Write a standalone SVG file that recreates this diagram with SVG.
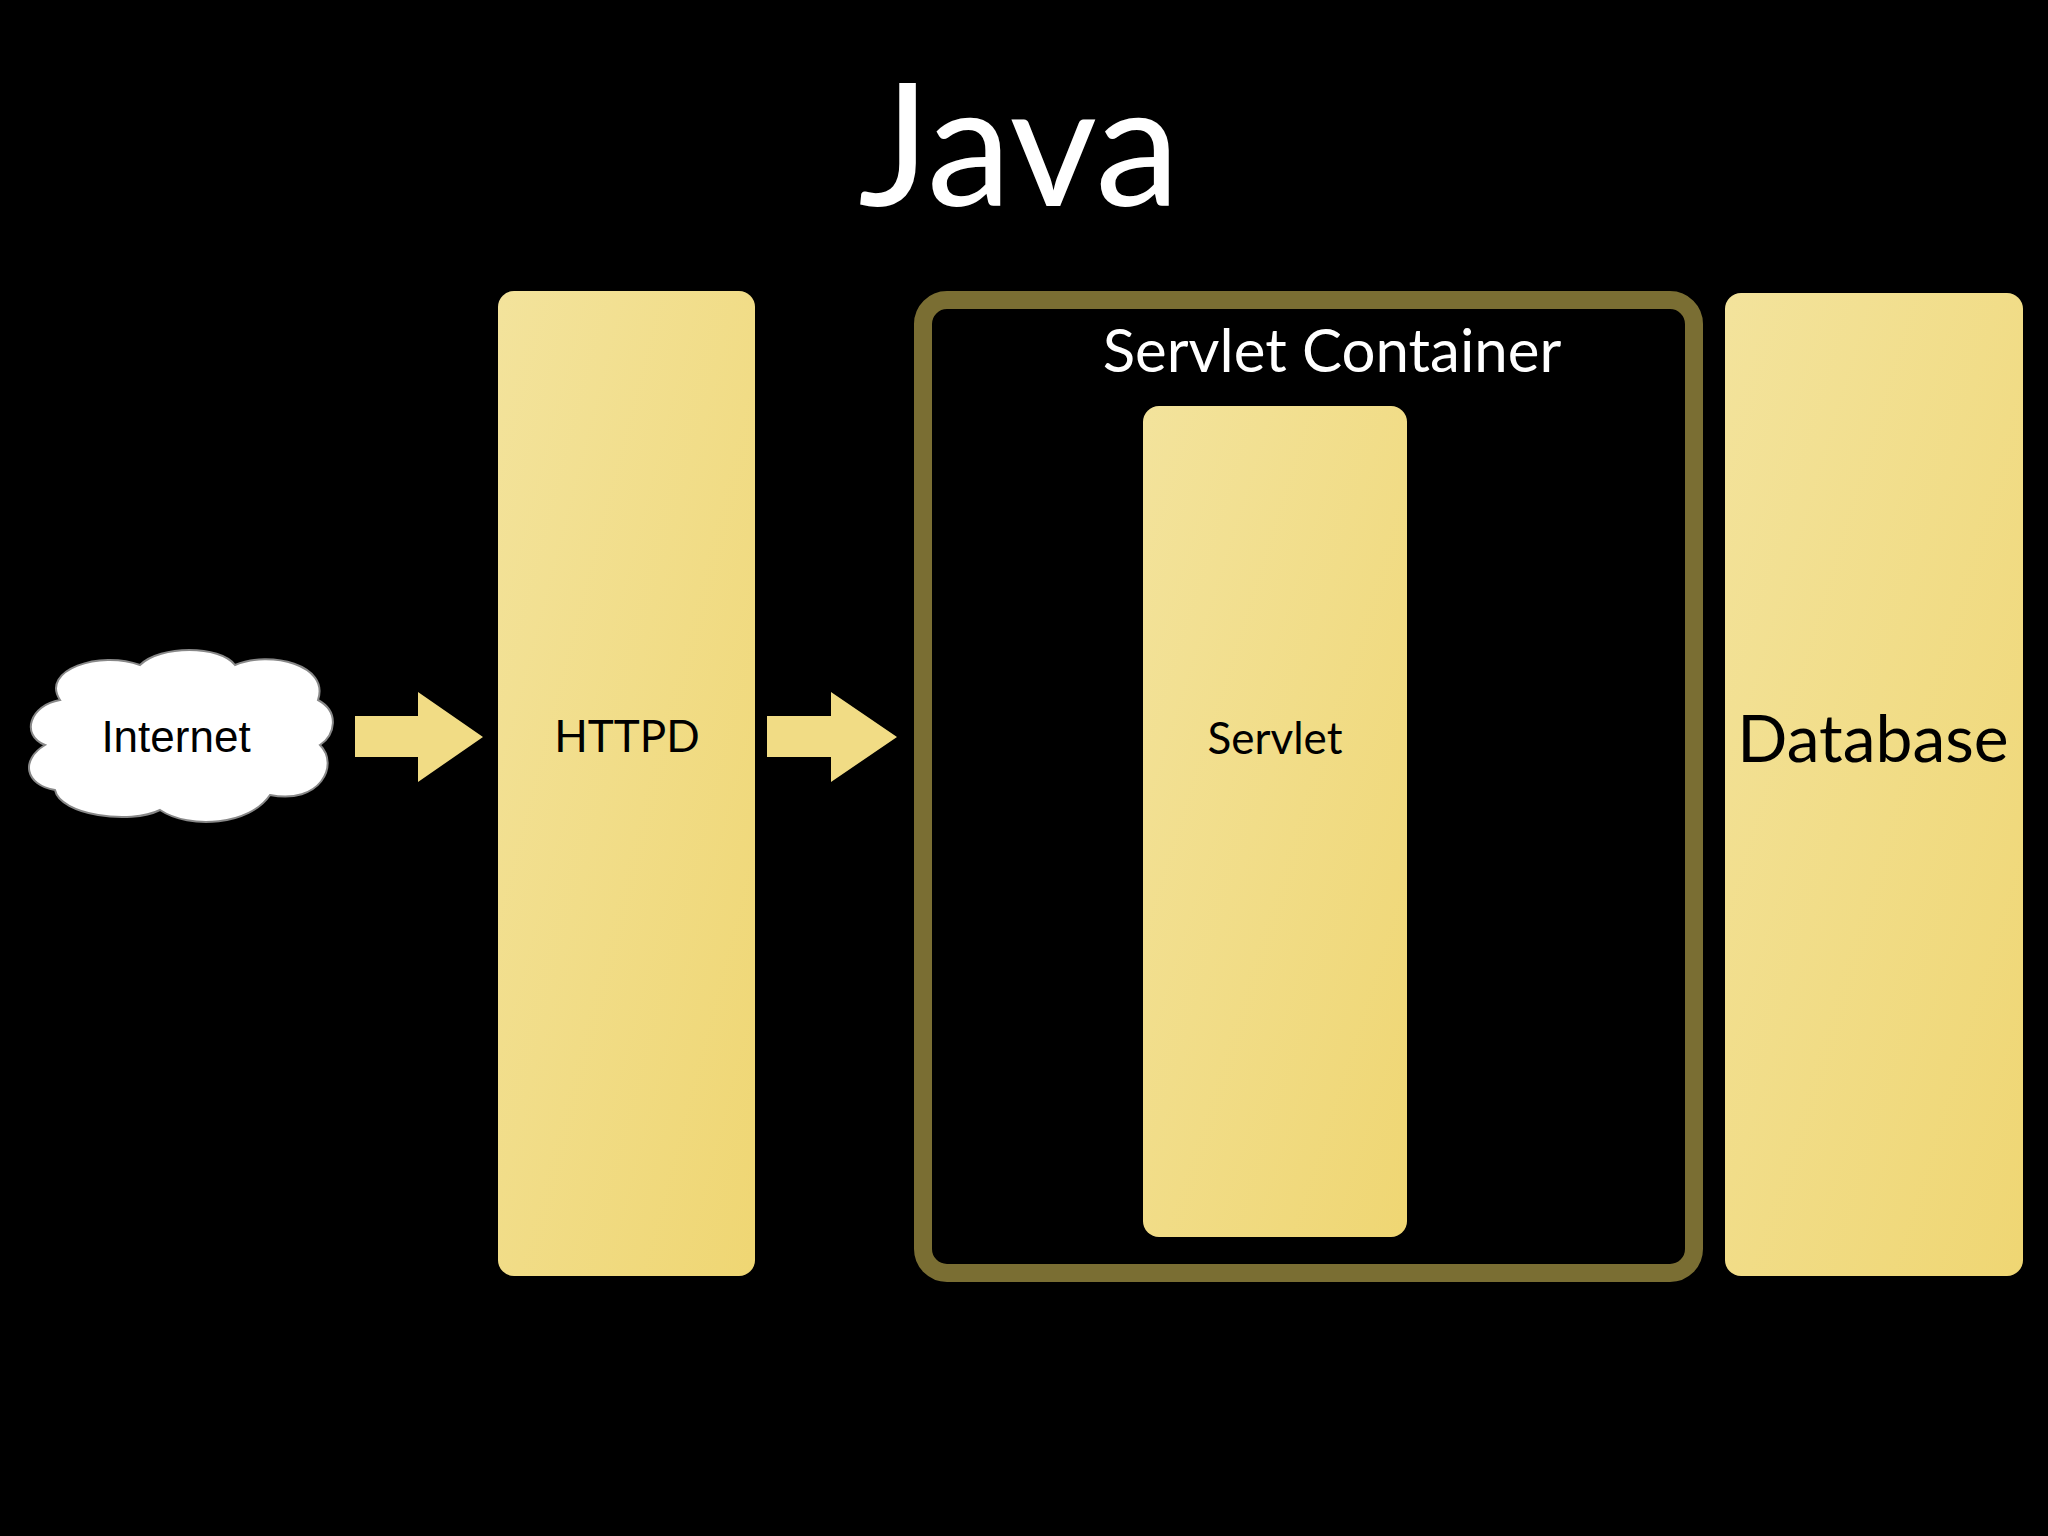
<svg xmlns="http://www.w3.org/2000/svg" width="2048" height="1536" viewBox="0 0 2048 1536">
<defs>
<linearGradient id="g" x1="0" y1="0" x2="1" y2="1"><stop offset="0" stop-color="#f3e39c"/><stop offset="1" stop-color="#efd673"/></linearGradient>
<style>
.box{fill:url(#g)}
.t{font-family:Lato,"Open Sans",sans-serif;text-anchor:middle}
.arr{fill:#f1dc85}
</style>
</defs>
<rect width="2048" height="1536" fill="#000"/>
<text class="t" x="1019" y="206" font-size="170" fill="#fff">Java</text>
<g id="internet">
<path d="M60,700 C40,670 100,650 140,665 C160,645 220,645 235,665 C270,650 330,665 318,700 C340,712 335,735 320,745 C340,765 320,805 270,795 C250,825 190,830 160,810 C130,825 60,815 55,790 C25,785 20,760 45,745 C20,735 30,705 60,700 Z" fill="#fff" stroke="#888" stroke-width="2"/>
<text x="176" y="752" font-family="Liberation Sans,Arial,sans-serif" font-size="44" text-anchor="middle" fill="#000">Internet</text>
</g>
<g id="connectors">
<polygon class="arr" points="355,716 418,716 418,692 483,737 418,782 418,757 355,757"/>
<polygon class="arr" points="767,716 831,716 831,692 897,737 831,782 831,757 767,757"/>
</g>
<g id="httpd">
<rect class="box" x="498" y="291" width="257" height="985" rx="16"/>
<text class="t" x="627" y="752" font-size="44" fill="#000">HTTPD</text>
</g>
<g id="container">
<rect x="923" y="300" width="771" height="973" rx="24" fill="none" stroke="#7a6e33" stroke-width="18"/>
<text class="t" x="1332" y="372" font-size="60" fill="#fff">Servlet Container</text>
</g>
<g id="servlet">
<rect class="box" x="1143" y="406" width="264" height="831" rx="16"/>
<text class="t" x="1275" y="754" font-size="44" fill="#000">Servlet</text>
</g>
<g id="database">
<rect class="box" x="1725" y="293" width="298" height="983" rx="16"/>
<text class="t" x="1873" y="762" font-size="66" fill="#000">Database</text>
</g>
</svg>
